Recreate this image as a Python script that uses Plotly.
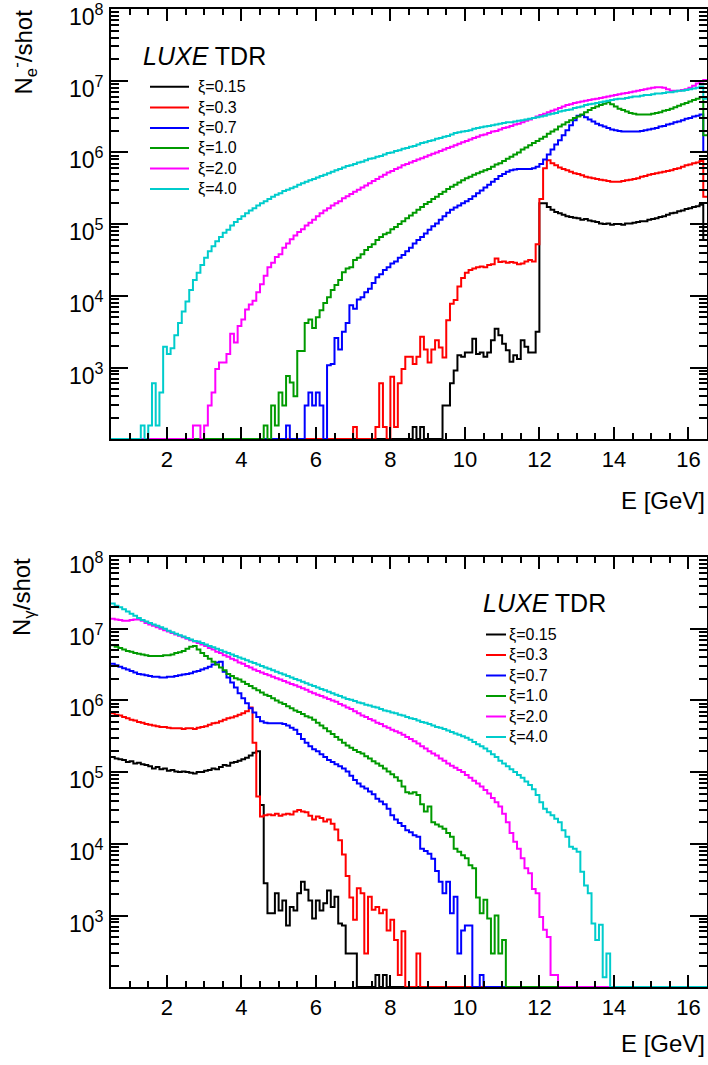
import numpy as np
import plotly.graph_objects as go

# ---------------- data (log10 of counts per shot, 0.1 GeV bins; None = empty bin) ----------------
XI_LABELS = ["ξ=0.15", "ξ=0.3", "ξ=0.7", "ξ=1.0", "ξ=2.0", "ξ=4.0"]
COLORS = ["#000000", "#ff0000", "#0000ff", "#009a00", "#ff00ff", "#00cccc"]
X_TICKS = [2, 4, 6, 8, 10, 12, 14, 16]
Y_DECADES = [3, 4, 5, 6, 7, 8]

# electrons: lower edge of first listed bin
ne_start = [8.6, 7.0, 5.2, 4.6, 2.7, 1.3]

ne_xi015 = [2.17, None, 2.17, None, None, None, None, None, 2.47, 2.47,
            2.78, 2.96, 3.17, 3.15, 3.21, 3.21, 3.40, 3.19, 3.21, 3.15,
            3.21, 3.38, 3.54, 3.45, 3.33, 3.24, 3.08, 3.17, 3.12, 3.38,
            3.29, 3.21, 3.21, 3.50, 5.29, 5.29, 5.24, 5.20, 5.17, 5.15,
            5.13, 5.11, 5.10, 5.09, 5.08, 5.06, 5.07, 5.05, 5.04, 5.03,
            5.01, 5.00, 5.01, 4.99, 5.00, 5.00, 4.99, 5.01, 5.01, 5.02,
            5.03, 5.04, 5.04, 5.06, 5.07, 5.08, 5.10, 5.11, 5.13, 5.15,
            5.16, 5.18, 5.19, 5.21, 5.22, 5.24, 5.25, 5.27, 4.78]

ne_xi03 = [2.17, None, None, None, None, None, 2.17, 2.78, 2.17, None,
           2.87, 2.17, 2.78, 2.98, 3.15, 3.15, 3.05, 3.15, 3.43, 3.25,
           3.07, 3.25, 3.38, 3.28, 3.14, 3.66, 3.89, 3.94, 4.13, 4.25,
           4.32, 4.36, 4.38, 4.40, 4.41, 4.40, 4.43, 4.44, 4.52, 4.47,
           4.48, 4.46, 4.47, 4.46, 4.44, 4.45, 4.48, 4.50, 4.48, 4.72,
           5.35, 5.78, 5.89, 5.85, 5.82, 5.79, 5.77, 5.75, 5.73, 5.71,
           5.70, 5.68, 5.66, 5.65, 5.64, 5.63, 5.62, 5.61, 5.60, 5.59,
           5.59, 5.59, 5.60, 5.61, 5.62, 5.63, 5.64, 5.66, 5.67, 5.69,
           5.70, 5.71, 5.72, 5.73, 5.74, 5.75, 5.77, 5.78, 5.80, 5.82,
           5.83, 5.85, 5.86, 5.88, 5.38]

ne_xi07 = [2.19, None, None, None, None, 2.47, 2.65, 2.47, 2.65, 2.47,
           None, 3.03, 3.05, 3.41, 3.25, 3.50, 3.62, 3.87, 3.82, 3.95,
           3.98, 4.05, 4.10, 4.18, 4.26, 4.30, 4.36, 4.40, 4.45, 4.48,
           4.53, 4.57, 4.62, 4.67, 4.73, 4.78, 4.82, 4.87, 4.92, 4.97,
           5.01, 5.06, 5.11, 5.16, 5.20, 5.23, 5.26, 5.29, 5.32, 5.35,
           5.39, 5.43, 5.47, 5.51, 5.55, 5.59, 5.63, 5.67, 5.70, 5.73,
           5.75, 5.76, 5.77, 5.77, 5.77, 5.77, 5.78, 5.80, 5.84, 5.90,
           5.97, 6.04, 6.11, 6.17, 6.24, 6.31, 6.38, 6.45, 6.51, 6.52,
           6.49, 6.46, 6.43, 6.40, 6.38, 6.36, 6.34, 6.32, 6.31, 6.30,
           6.29, 6.29, 6.29, 6.29, 6.29, 6.30, 6.31, 6.32, 6.33, 6.34,
           6.36, 6.37, 6.39, 6.40, 6.42, 6.43, 6.45, 6.47, 6.48, 6.50,
           6.51, 6.53, 6.01]

ne_xi10 = [2.19, None, 2.47, 2.19, 2.65, 2.47, 2.88, 2.79, 2.60, 3.23,
           3.23, 3.62, 3.67, 3.55, 3.70, 3.80, 3.90, 3.98, 4.08, 4.15,
           4.22, 4.33, 4.38, 4.40, 4.50, 4.53, 4.58, 4.64, 4.68, 4.72,
           4.78, 4.82, 4.86, 4.88, 4.93, 4.96, 5.00, 5.04, 5.08, 5.12,
           5.16, 5.20, 5.24, 5.28, 5.31, 5.35, 5.38, 5.42, 5.45, 5.49,
           5.52, 5.55, 5.58, 5.61, 5.64, 5.66, 5.69, 5.71, 5.73, 5.75,
           5.77, 5.80, 5.83, 5.85, 5.88, 5.91, 5.94, 5.97, 6.00, 6.04,
           6.07, 6.10, 6.13, 6.16, 6.19, 6.22, 6.26, 6.29, 6.32, 6.36,
           6.39, 6.42, 6.45, 6.48, 6.50, 6.53, 6.56, 6.59, 6.62, 6.64,
           6.66, 6.68, 6.70, 6.67, 6.64, 6.61, 6.59, 6.57, 6.55, 6.54,
           6.53, 6.53, 6.53, 6.53, 6.54, 6.55, 6.56, 6.58, 6.59, 6.61,
           6.63, 6.65, 6.67, 6.69, 6.71, 6.73, 6.75, 6.77, 6.24]

ne_xi20 = [2.19, 2.19, None, 2.19, 2.47, 2.65, 2.98, 3.07, 3.07, 3.19,
           3.47, 3.35, 3.58, 3.67, 3.81, 3.88, 3.93, 4.05, 4.16, 4.28,
           4.40, 4.46, 4.54, 4.58, 4.67, 4.73, 4.79, 4.84, 4.89, 4.93,
           4.98, 5.02, 5.06, 5.11, 5.15, 5.19, 5.22, 5.26, 5.29, 5.32,
           5.36, 5.39, 5.42, 5.45, 5.48, 5.51, 5.54, 5.57, 5.60, 5.63,
           5.66, 5.69, 5.72, 5.74, 5.77, 5.79, 5.82, 5.84, 5.86, 5.88,
           5.90, 5.92, 5.94, 5.96, 5.98, 6.00, 6.02, 6.04, 6.06, 6.08,
           6.10, 6.12, 6.14, 6.16, 6.18, 6.20, 6.22, 6.24, 6.25, 6.27,
           6.29, 6.30, 6.32, 6.34, 6.35, 6.37, 6.39, 6.40, 6.42, 6.44,
           6.46, 6.48, 6.50, 6.52, 6.54, 6.56, 6.58, 6.60, 6.62, 6.64,
           6.66, 6.67, 6.69, 6.70, 6.71, 6.72, 6.73, 6.74, 6.75, 6.76,
           6.77, 6.78, 6.79, 6.80, 6.81, 6.82, 6.83, 6.84, 6.85, 6.86,
           6.87, 6.88, 6.89, 6.90, 6.91, 6.91, 6.90, 6.88, 6.86, 6.86,
           6.86, 6.87, 6.88, 6.90, 6.93, 6.96, 6.99, 7.01]

ne_xi40 = [2.19, None, 2.19, 2.78, 2.19, 2.65, 3.29, 3.19, 3.27, 3.45,
           3.62, 3.78, 3.92, 4.08, 4.22, 4.32, 4.43, 4.53, 4.62, 4.69,
           4.76, 4.82, 4.88, 4.92, 4.98, 5.03, 5.07, 5.11, 5.15, 5.19,
           5.22, 5.26, 5.29, 5.32, 5.35, 5.38, 5.41, 5.43, 5.46, 5.48,
           5.50, 5.52, 5.55, 5.57, 5.59, 5.61, 5.63, 5.65, 5.67, 5.69,
           5.71, 5.73, 5.75, 5.77, 5.79, 5.81, 5.82, 5.84, 5.86, 5.87,
           5.89, 5.91, 5.92, 5.94, 5.95, 5.97, 5.99, 6.00, 6.02, 6.03,
           6.05, 6.06, 6.08, 6.09, 6.11, 6.13, 6.14, 6.16, 6.17, 6.19,
           6.20, 6.22, 6.23, 6.25, 6.27, 6.28, 6.29, 6.30, 6.31, 6.33,
           6.34, 6.35, 6.36, 6.37, 6.38, 6.39, 6.40, 6.41, 6.42, 6.42,
           6.43, 6.44, 6.45, 6.46, 6.47, 6.48, 6.49, 6.50, 6.51, 6.53,
           6.54, 6.55, 6.57, 6.58, 6.59, 6.60, 6.62, 6.63, 6.64, 6.66,
           6.67, 6.68, 6.69, 6.70, 6.71, 6.72, 6.73, 6.74, 6.75, 6.75,
           6.76, 6.77, 6.78, 6.78, 6.79, 6.80, 6.80, 6.81, 6.82, 6.82,
           6.83, 6.84, 6.84, 6.85, 6.86, 6.86, 6.87, 6.88, 6.89, 6.90,
           6.92, 6.75]

# photons: all start at 0.5 GeV
ng_start = [0.5, 0.5, 0.5, 0.5, 0.5, 0.5]

ng_xi015 = [5.21, 5.19, 5.18, 5.17, 5.14, 5.15, 5.12, 5.13, 5.11, 5.10,
            5.08, 5.05, 5.07, 5.04, 5.05, 5.02, 5.03, 5.01, 5.00, 5.01,
            5.00, 4.99, 4.98, 5.00, 5.00, 5.02, 5.03, 5.05, 5.04, 5.07,
            5.10, 5.09, 5.13, 5.14, 5.16, 5.18, 5.20, 5.23, 5.27, 5.29,
            4.54, 3.45, 3.03, 3.03, 3.31, 3.07, 3.21, 2.86, 3.12, 3.07,
            3.31, 3.47, 3.36, 3.21, 2.96, 3.21, 3.07, 3.17, 3.35, 3.12,
            3.26, 2.89, 2.86, 2.47, 2.47, 2.47, None, None, None, None,
            None, 2.17, None, 2.17]

ng_xi03 = [5.82, 5.80, 5.79, 5.77, 5.75, 5.73, 5.72, 5.70, 5.69, 5.67,
           5.66, 5.65, 5.64, 5.63, 5.63, 5.62, 5.61, 5.61, 5.61, 5.60,
           5.61, 5.61, 5.60, 5.62, 5.63, 5.64, 5.66, 5.68, 5.69, 5.71,
           5.73, 5.75, 5.76, 5.78, 5.80, 5.82, 5.85, 5.90, 5.41, 4.66,
           4.38, 4.40, 4.41, 4.40, 4.42, 4.39, 4.41, 4.42, 4.41, 4.45,
           4.47, 4.45, 4.44, 4.39, 4.34, 4.38, 4.36, 4.31, 4.34, 4.28,
           4.20, 4.05, 3.85, 3.55, 3.25, 2.94, 3.38, 3.31, 2.47, 3.26,
           3.08, 3.12, 3.03, 3.08, 2.79, 2.94, 2.66, 2.17, 2.78, None,
           None, None, 2.47]

ng_xi07 = [6.51, 6.49, 6.47, 6.45, 6.43, 6.41, 6.39, 6.37, 6.36, 6.35,
           6.34, 6.33, 6.33, 6.32, 6.32, 6.33, 6.33, 6.34, 6.35, 6.36,
           6.37, 6.38, 6.40, 6.41, 6.43, 6.45, 6.47, 6.50, 6.53, 6.54,
           6.40, 6.32, 6.25, 6.18, 6.10, 6.03, 5.96, 5.89, 5.83, 5.77,
           5.71, 5.69, 5.68, 5.68, 5.68, 5.68, 5.67, 5.65, 5.62, 5.59,
           5.53, 5.46, 5.41, 5.36, 5.32, 5.29, 5.25, 5.21, 5.17, 5.14,
           5.11, 5.08, 5.05, 5.01, 4.95, 4.89, 4.84, 4.80, 4.77, 4.73,
           4.69, 4.63, 4.59, 4.55, 4.49, 4.40, 4.34, 4.29, 4.25, 4.19,
           4.16, 4.12, 4.10, 3.93, 3.90, 3.86, 3.79, 3.62, 3.47, 3.31,
           3.47, 3.03, 3.26, 2.47, 2.79, 2.86, 2.86, None, None, 2.17]

ng_xi10 = [6.77, 6.75, 6.73, 6.71, 6.69, 6.68, 6.66, 6.65, 6.64, 6.63,
           6.62, 6.62, 6.62, 6.62, 6.63, 6.63, 6.64, 6.66, 6.67, 6.69,
           6.72, 6.75, 6.76, 6.71, 6.66, 6.62, 6.58, 6.54, 6.50, 6.46,
           6.42, 6.37, 6.34, 6.31, 6.29, 6.26, 6.23, 6.20, 6.17, 6.14,
           6.11, 6.08, 6.06, 6.03, 6.00, 5.97, 5.95, 5.92, 5.89, 5.86,
           5.84, 5.81, 5.78, 5.76, 5.73, 5.69, 5.65, 5.61, 5.57, 5.53,
           5.49, 5.45, 5.41, 5.37, 5.34, 5.31, 5.28, 5.26, 5.22, 5.19,
           5.15, 5.12, 5.09, 5.05, 5.01, 4.97, 4.93, 4.88, 4.80, 4.72,
           4.70, 4.72, 4.68, 4.55, 4.45, 4.52, 4.30, 4.27, 4.24, 4.21,
           4.15, 4.10, 3.93, 3.89, 3.84, 3.80, 3.70, 3.66, 3.25, 3.03,
           3.22, 2.96, 2.47, 3.00, 2.47, 2.66]

ng_xi20 = [7.14, 7.13, 7.12, 7.11, 7.11, 7.12, 7.13, 7.13, 7.11, 7.08,
           7.06, 7.04, 7.02, 7.00, 6.98, 6.96, 6.94, 6.92, 6.90, 6.88,
           6.86, 6.84, 6.82, 6.80, 6.78, 6.76, 6.73, 6.71, 6.68, 6.66,
           6.63, 6.61, 6.58, 6.56, 6.53, 6.51, 6.48, 6.46, 6.43, 6.41,
           6.39, 6.37, 6.35, 6.33, 6.31, 6.29, 6.27, 6.25, 6.23, 6.21,
           6.19, 6.17, 6.15, 6.12, 6.10, 6.08, 6.06, 6.04, 6.02, 6.00,
           5.98, 5.95, 5.93, 5.90, 5.88, 5.85, 5.82, 5.79, 5.77, 5.74,
           5.72, 5.69, 5.67, 5.64, 5.62, 5.59, 5.57, 5.55, 5.52, 5.49,
           5.46, 5.43, 5.40, 5.36, 5.33, 5.29, 5.26, 5.23, 5.19, 5.16,
           5.12, 5.09, 5.06, 5.03, 5.00, 4.96, 4.92, 4.88, 4.84, 4.80,
           4.75, 4.70, 4.64, 4.58, 4.52, 4.42, 4.30, 4.15, 4.03, 3.93,
           3.80, 3.66, 3.59, 3.37, 3.31, 2.98, 2.80, 2.70, 2.17, 2.17]

ng_xi40 = [7.35, 7.32, 7.30, 7.27, 7.24, 7.21, 7.18, 7.15, 7.12, 7.10,
           7.08, 7.06, 7.04, 7.02, 7.00, 6.97, 6.95, 6.93, 6.91, 6.89,
           6.87, 6.85, 6.83, 6.82, 6.80, 6.78, 6.76, 6.74, 6.72, 6.70,
           6.68, 6.66, 6.64, 6.62, 6.60, 6.58, 6.56, 6.54, 6.52, 6.50,
           6.48, 6.46, 6.44, 6.42, 6.40, 6.38, 6.36, 6.34, 6.32, 6.30,
           6.28, 6.26, 6.24, 6.22, 6.20, 6.18, 6.16, 6.14, 6.12, 6.10,
           6.08, 6.06, 6.04, 6.02, 6.01, 5.99, 5.97, 5.96, 5.94, 5.93,
           5.91, 5.90, 5.88, 5.86, 5.85, 5.83, 5.82, 5.80, 5.79, 5.77,
           5.75, 5.74, 5.72, 5.70, 5.69, 5.67, 5.65, 5.63, 5.62, 5.60,
           5.58, 5.56, 5.54, 5.52, 5.50, 5.48, 5.45, 5.42, 5.39, 5.36,
           5.33, 5.29, 5.25, 5.21, 5.16, 5.12, 5.08, 5.04, 5.00, 4.96,
           4.92, 4.87, 4.82, 4.76, 4.68, 4.58, 4.49, 4.44, 4.40, 4.35,
           4.30, 4.19, 4.10, 3.96, 3.93, 3.89, 3.61, 3.42, 3.31, 2.89,
           2.66, 2.87, 2.14, 2.47]

ne_series = [ne_xi015, ne_xi03, ne_xi07, ne_xi10, ne_xi20, ne_xi40]
ng_series = [ng_xi015, ng_xi03, ng_xi07, ng_xi10, ng_xi20, ng_xi40]

# ---------------- geometry / style ----------------
W, H = 708, 1065
L, R, T, B = 111, 1, 9, 78
Y_LOG_MIN, Y_LOG_MAX = 2.003, 8.0
E_MIN, E_MAX, BIN = 0.5, 16.5, 0.1
NB = int(round((E_MAX - E_MIN) / BIN))
EDGES = np.round(E_MIN + BIN * np.arange(NB + 1), 2)
FONT = "Liberation Sans, Arial, sans-serif"
X_MINOR = [v / 2 for v in range(2, 33) if (v / 2) % 2 != 0]
Y_MINOR = [m * 10 ** n for n in range(2, 8) for m in range(2, 10)]


def px_x(x):
    return (x - L) / (W - L - R)


def px_y(y):
    return (H - B - y) / (H - T - B)


def hist_y(start, logvals):
    counts = np.full(NB, 10 ** Y_LOG_MIN)  # empty bins sit on the frame bottom
    i0 = int(round((start - E_MIN) / BIN))
    for k, v in enumerate(logvals):
        if v is not None and i0 + k < NB:
            counts[i0 + k] = 10 ** v
    return np.append(counts, counts[-1])


fig = go.Figure()
for series, starts, xa, ya in [(ne_series, ne_start, "x", "y"), (ng_series, ng_start, "x2", "y2")]:
    for vals, s, col, lab in zip(series, starts, COLORS, XI_LABELS):
        fig.add_trace(go.Scatter(
            x=EDGES, y=hist_y(s, vals), mode="lines", line=dict(color=col, width=2, shape="hv"),
            name=lab, showlegend=False, xaxis=xa, yaxis=ya, hoverinfo="skip"))

# invisible carriers for the minor-tick overlay axes
for xa, ya in [("x3", "y3"), ("x4", "y4")]:
    fig.add_trace(go.Scatter(x=[E_MIN], y=[10 ** Y_LOG_MIN], mode="lines", line=dict(width=0),
                             showlegend=False, hoverinfo="skip", xaxis=xa, yaxis=ya))

tfont = dict(family=FONT, size=22, color="black")
xcommon = dict(range=[E_MIN, E_MAX], tickvals=X_TICKS, ticks="inside", ticklen=12, tickwidth=1.5,
               tickcolor="black", showline=True, linecolor="black", linewidth=1.5, mirror="ticks",
               showgrid=False, zeroline=False, tickfont=tfont, ticklabeloverflow="allow")
ycommon = dict(type="log", range=[Y_LOG_MIN, Y_LOG_MAX], dtick=1, ticks="inside", ticklen=17,
               tickwidth=1.5, tickcolor="black", showline=True, linecolor="black", linewidth=1.5,
               mirror="ticks", showgrid=False, zeroline=False, showticklabels=False)
xminor = dict(range=[E_MIN, E_MAX], tickvals=X_MINOR, ticks="inside", ticklen=6, tickwidth=1.5,
              tickcolor="black", showline=False, mirror="ticks", showgrid=False, zeroline=False,
              showticklabels=False)
yminor = dict(type="log", range=[Y_LOG_MIN, Y_LOG_MAX], tickvals=Y_MINOR, ticks="inside",
              ticklen=8, tickwidth=1.5, tickcolor="black", showline=False, mirror="ticks",
              showgrid=False, zeroline=False, showticklabels=False)

fig.update_layout(
    width=W, height=H, margin=dict(l=L, r=R, t=T, b=B),
    paper_bgcolor="white", plot_bgcolor="white", template="none",
    xaxis=dict(domain=[0, 1], anchor="y", **xcommon),
    yaxis=dict(domain=[px_y(439), 1.0], anchor="x", **ycommon),
    xaxis2=dict(domain=[0, 1], anchor="y2", **xcommon),
    yaxis2=dict(domain=[0, px_y(557)], anchor="x2", **ycommon),
    xaxis3=dict(overlaying="x", anchor="y", **xminor),
    yaxis3=dict(overlaying="y", anchor="x", **yminor),
    xaxis4=dict(overlaying="x2", anchor="y2", **xminor),
    yaxis4=dict(overlaying="y2", anchor="x2", **yminor),
)

ann = []
shapes = []
# y tick labels (ROOT style 10^n, sitting slightly below the tick)
for yref in ("y", "y2"):
    for n in Y_DECADES:
        ann.append(dict(text=f"10<sup>{n}</sup>", x=px_x(106), xanchor="right", xref="paper",
                        y=n, yref=yref, yanchor="middle", yshift=-6, showarrow=False,
                        font=dict(family=FONT, size=23, color="black")))
# axis titles
ann.append(dict(text="N<sub>e</sub><sup>-</sup>/shot", x=px_x(23), y=px_y(8), xanchor="center",
                yanchor="top", textangle=-90, font=dict(family=FONT, size=24, color="black")))
ann.append(dict(text="N<sub>γ</sub>/shot", x=px_x(23), y=px_y(556), xanchor="center",
                yanchor="top", textangle=-90, font=dict(family=FONT, size=24, color="black")))
for yc in (500, 1043):
    ann.append(dict(text="E [GeV]", x=px_x(707), y=px_y(yc), xanchor="right", yanchor="middle",
                    font=dict(family=FONT, size=24, color="black")))
# LUXE TDR labels
ann.append(dict(text="<i>LUXE</i> TDR", x=px_x(141), y=px_y(56), xanchor="left", yanchor="middle",
                font=dict(family=FONT, size=25, color="black")))
ann.append(dict(text="<i>LUXE</i> TDR", x=px_x(481), y=px_y(603), xanchor="left", yanchor="middle",
                font=dict(family=FONT, size=25, color="black")))
# legends
top_rows = [86.7, 107.5, 128, 148, 168.5, 189]
bot_rows = [634.5, 655, 675.5, 696, 716.5, 737]
for i, (lab, col) in enumerate(zip(XI_LABELS, COLORS)):
    yt = top_rows[i]
    shapes.append(dict(type="line", xref="paper", yref="paper", x0=px_x(150), x1=px_x(189),
                       y0=px_y(yt), y1=px_y(yt), line=dict(color=col, width=2)))
    ann.append(dict(text=lab, x=px_x(196), y=px_y(yt), xanchor="left", yanchor="middle",
                    font=dict(family=FONT, size=16, color="black")))
    yb = bot_rows[i]
    shapes.append(dict(type="line", xref="paper", yref="paper", x0=px_x(486), x1=px_x(506),
                       y0=px_y(yb), y1=px_y(yb), line=dict(color=col, width=2)))
    ann.append(dict(text=lab, x=px_x(507), y=px_y(yb), xanchor="left", yanchor="middle",
                    font=dict(family=FONT, size=16, color="black")))

for a in ann:
    a.setdefault("xref", "paper")
    a.setdefault("yref", "paper")
    a["showarrow"] = False
fig.update_layout(annotations=ann, shapes=shapes)

fig.write_html("out.html")
